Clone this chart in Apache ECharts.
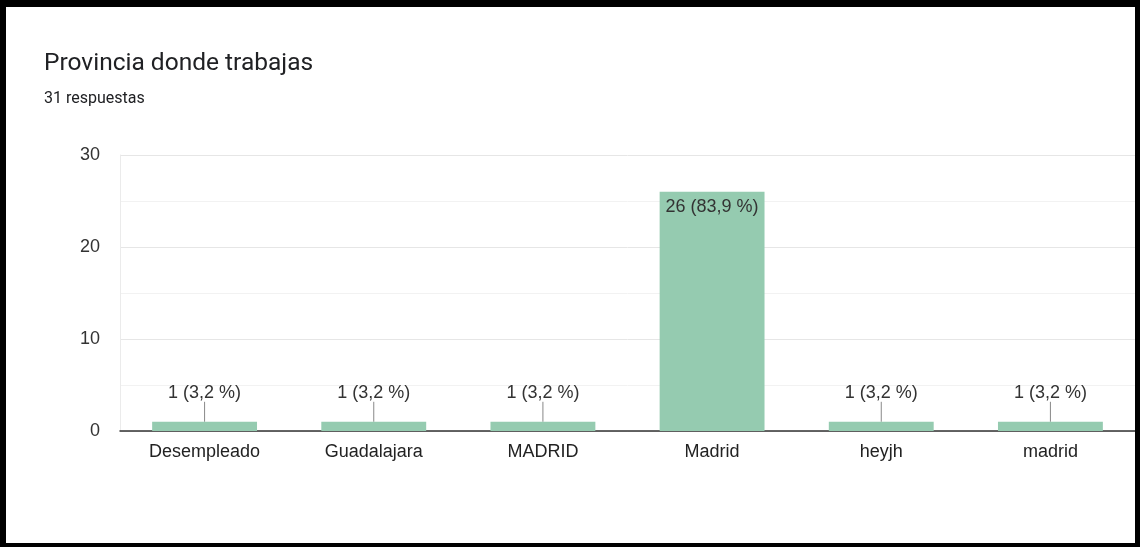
<!DOCTYPE html>
<html>
<head>
<meta charset="utf-8">
<script src="https://cdn.jsdelivr.net/npm/echarts@6/dist/echarts.min.js"></script>
<style>
  html, body { margin: 0; padding: 0; background: #fff; }
  #wrap { position: relative; width: 1140px; height: 547px; overflow: hidden; background: #fff; }
  #chart { position: absolute; left: 0; top: 0; width: 1140px; height: 547px; }
  .b { position: absolute; background: #000; }
</style>
</head>
<body>
<div id="wrap">
  <div id="chart"></div>
  <div class="b" style="left:0;top:0;width:1140px;height:7px"></div>
  <div class="b" style="left:0;top:0;width:6px;height:547px"></div>
  <div class="b" style="right:0;top:0;width:5px;height:547px"></div>
  <div class="b" style="left:0;bottom:0;width:1140px;height:4px"></div>
</div>
<script>
const categories = ['Desempleado', 'Guadalajara', 'MADRID', 'Madrid', 'heyjh', 'madrid'];
const counts = [1, 1, 1, 26, 1, 1];
const percents = [3.2, 3.2, 3.2, 83.9, 3.2, 3.2];
const yTicks = [0, 10, 20, 30];

const fmtPct = (p) => p.toFixed(1).replace('.', ',');
const titleFont = 'Roboto, sans-serif';
const font = '"Liberation Sans", Arial, sans-serif';
const BIG = 5;

const chart = echarts.init(document.getElementById('chart'), null, { renderer: 'canvas' });
chart.setOption({
  animation: false,
  backgroundColor: '#fff',
  title: [
    { text: 'Provincia donde trabajas', left: 44, top: 51, padding: 0,
      textStyle: { fontFamily: titleFont, fontSize: 24.5, fontWeight: 'normal', color: '#202124' } },
    { text: '31 respuestas', left: 44, top: 91, padding: 0,
      textStyle: { fontFamily: titleFont, fontSize: 16, fontWeight: 'normal', color: '#202124' } }
  ],
  grid: { left: 120, right: 5, top: 155, bottom: 116, containLabel: false },
  xAxis: {
    type: 'category',
    data: categories,
    axisTick: { show: false },
    axisLine: { show: true, lineStyle: { color: '#333', width: 1.5 } },
    axisLabel: { fontFamily: font, fontSize: 18, color: '#222', margin: 12 }
  },
  yAxis: {
    type: 'value',
    min: yTicks[0], max: yTicks[yTicks.length - 1], interval: 10,
    axisLine: { show: true, lineStyle: { color: '#ebebeb' } },
    axisTick: { show: false },
    axisLabel: { fontFamily: font, fontSize: 18, color: '#333', margin: 20 },
    splitLine: { lineStyle: { color: '#e6e6e6' } },
    minorTick: { show: false, splitNumber: 2 },
    minorSplitLine: { show: true, lineStyle: { color: '#f2f2f2' } }
  },
  series: [{
    type: 'bar',
    data: counts.map((v, i) => {
      const big = v > BIG;
      return {
        value: v,
        label: {
          show: true,
          position: big ? 'insideTop' : 'top',
          distance: big ? 6 : 0,
          formatter: v + ' (' + fmtPct(percents[i]) + ' %)',
          fontFamily: font, fontSize: 18, color: '#333'
        },
        labelLine: { show: !big }
      };
    }),
    labelLine: { show: true, lineStyle: { color: '#888', width: 1 } },
    labelLayout: (params) => counts[params.dataIndex] > BIG ? {} : { dy: -20 },
    barWidth: '62%',
    itemStyle: { color: '#95cbb0' }
  }]
});
</script>
</body>
</html>
